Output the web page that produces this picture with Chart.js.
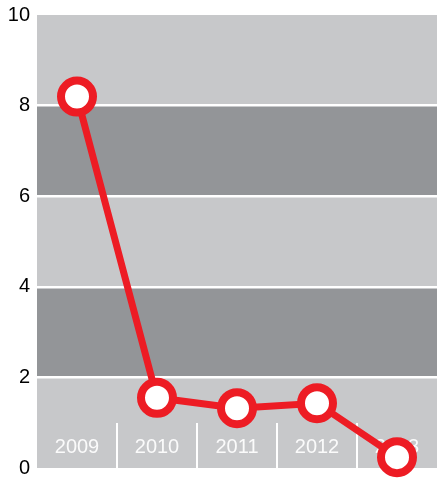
<!DOCTYPE html>
<html>
<head>
<meta charset="utf-8">
<script src="https://cdn.jsdelivr.net/npm/chart.js@4"></script>
<style>
  html, body { margin: 0; padding: 0; background: #fff; }
  #wrap { width: 437px; height: 478px; }
</style>
</head>
<body>
<div id="wrap"><canvas id="js-trend__chart"></canvas></div>
<script>
// Yearly values
const years = ['2009', '2010', '2011', '2012', '2013'];
const values = [8.2, 1.55, 1.32, 1.43, 0.24];
const yTicks = [0, 2, 4, 6, 8, 10];

const red = '#ED1C24';
const lightBand = '#C7C8CA';
const darkBand = '#939598';

// Alternating horizontal bands between the y ticks
const bandsPlugin = {
  id: 'bands',
  beforeDraw(chart) {
    const { ctx, chartArea, scales } = chart;
    const y = scales.y;
    ctx.save();
    for (let i = 0; i < yTicks.length - 1; i++) {
      const top = y.getPixelForValue(yTicks[i + 1]);
      const bottom = y.getPixelForValue(yTicks[i]);
      ctx.fillStyle = i % 2 === 0 ? lightBand : darkBand;
      ctx.fillRect(chartArea.left, top, chartArea.right - chartArea.left, bottom - top);
    }
    ctx.restore();
  }
};

// Year labels and separators sitting inside the plot, under the line
const yearLabelsPlugin = {
  id: 'yearLabels',
  beforeDatasetsDraw(chart) {
    const { ctx, chartArea, scales } = chart;
    const x = scales.x;
    ctx.save();
    ctx.strokeStyle = '#ffffff';
    ctx.lineWidth = 2;
    for (let i = 0; i < years.length - 1; i++) {
      const sx = Math.round((x.getPixelForValue(i) + x.getPixelForValue(i + 1)) / 2);
      ctx.beginPath();
      ctx.moveTo(sx, chartArea.bottom - 45);
      ctx.lineTo(sx, chartArea.bottom);
      ctx.stroke();
    }
    ctx.fillStyle = 'rgba(255,255,255,0.92)';
    ctx.font = '20px "Liberation Sans", Arial, sans-serif';
    ctx.textAlign = 'center';
    ctx.textBaseline = 'middle';
    years.forEach((label, i) => {
      ctx.fillText(label, x.getPixelForValue(i), chartArea.bottom - 21);
    });
    ctx.restore();
  }
};

const trendConfig = {
  type: 'line',
  data: {
    labels: years,
    datasets: [{
      data: values,
      borderColor: red,
      borderWidth: 7,
      backgroundColor: '#ffffff',
      pointBackgroundColor: '#ffffff',
      pointBorderColor: red,
      pointBorderWidth: 8,
      pointRadius: 16,
      tension: 0,
      clip: false
    }]
  },
  options: {
    responsive: true,
    maintainAspectRatio: false,
    animation: false,
    layout: {
      autoPadding: false,
      padding: { top: 15, bottom: 10, right: 0, left: 0 }
    },
    plugins: {
      legend: { display: false },
      tooltip: { enabled: false }
    },
    scales: {
      x: {
        display: false,
        offset: true
      },
      y: {
        min: 0,
        max: 10,
        afterFit(scale) {
          scale.width = 37;
          scale.paddingTop = 0;
          scale.paddingBottom = 0;
        },
        border: { display: false },
        grid: {
          drawTicks: false,
          lineWidth: 2.5,
          color: (c) => (c.tick.value > 0 && c.tick.value < 10) ? '#ffffff' : 'rgba(0,0,0,0)'
        },
        ticks: {
          stepSize: 2,
          padding: 7,
          color: '#000000',
          font: { family: '"Liberation Sans", Arial, sans-serif', size: 20 }
        }
      }
    }
  },
  plugins: [bandsPlugin, yearLabelsPlugin]
};

const trendChart = new Chart(
  document.getElementById('js-trend__chart'),
  trendConfig
);
</script>
</body>
</html>
